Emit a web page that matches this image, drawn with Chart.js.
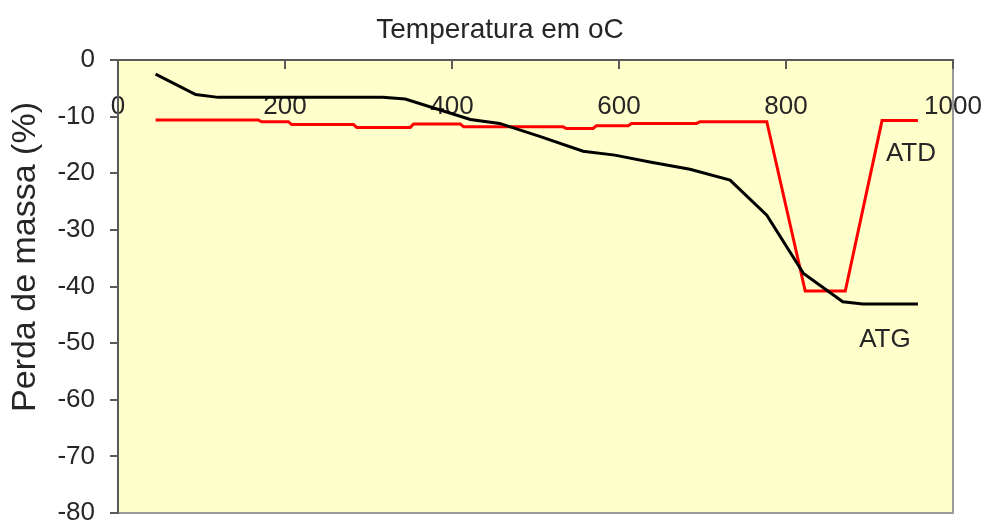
<!DOCTYPE html>
<html>
<head>
<meta charset="utf-8">
<script src="https://cdn.jsdelivr.net/npm/chart.js@4.4.1/dist/chart.umd.min.js"></script>
<style>
  html, body { margin: 0; padding: 0; background: #ffffff; }
  #wrap { width: 984px; height: 520px; position: relative; }
</style>
</head>
<body>
<div id="wrap"><canvas id="chart" width="984" height="520"></canvas></div>
<script>
// Thermogravimetric curve (ATG): temperature (°C) vs mass loss (%)
const atgTemp = [45, 93, 120, 317, 344, 422, 457, 505, 557, 595, 637, 685, 733, 777, 821, 868, 892, 958];
const atgMass = [-2.5, -6.1, -6.6, -6.6, -6.9, -10.5, -11.2, -13.5, -16.1, -16.8, -18.0, -19.3, -21.2, -27.4, -37.7, -42.7, -43.1, -43.1];

// Differential thermal curve (ATD), plotted on the same vertical scale
const atdTemp = [45, 168, 172, 204, 208, 282, 286, 350, 354, 410, 414, 533, 537, 569, 573, 611, 615, 693, 697, 777, 823, 871, 915, 958];
const atdSignal = [-10.6, -10.6, -10.9, -10.9, -11.4, -11.4, -11.9, -11.9, -11.3, -11.3, -11.8, -11.8, -12.1, -12.1, -11.6, -11.6, -11.2, -11.2, -10.9, -10.9, -40.8, -40.8, -10.7, -10.7];

const seriesNames = ['ATG', 'ATD'];
const xTitle = 'Temperatura em oC';
const yTitle = 'Perda de massa (%)';
const xMin = 0, xMax = 1000, xStep = 200;
const yMin = -80, yMax = 0, yStep = 10;

const FONT = '"Liberation Sans", Arial, Helvetica, sans-serif';
const TEXT = '#262626';
const AXIS = '#5a5a5a';

const toPoints = (xs, ys) => xs.map((x, i) => ({ x, y: ys[i] }));
const plainNumber = (v) => String(v);

// Yellow plot area with a light frame on the right and bottom, painted before the axes
const plotFrame = {
  id: 'plotFrame',
  beforeDraw(chart) {
    const { ctx, chartArea: a } = chart;
    ctx.save();
    ctx.fillStyle = '#FFFFCC';
    ctx.fillRect(a.left, a.top, a.width, a.height);
    ctx.strokeStyle = '#9a9a9a';
    ctx.lineWidth = 2;
    ctx.beginPath();
    ctx.moveTo(a.right, a.top);
    ctx.lineTo(a.right, a.bottom);
    ctx.lineTo(a.left, a.bottom);
    ctx.stroke();
    ctx.restore();
  }
};

// Rotated vertical title and the curve names next to each curve's end
const annotations = {
  id: 'annotations',
  afterDraw(chart) {
    const { ctx } = chart;
    ctx.save();
    ctx.fillStyle = TEXT;
    ctx.textBaseline = 'middle';
    ctx.textAlign = 'center';

    ctx.save();
    ctx.font = '34px ' + FONT;
    ctx.translate(26, 257);
    ctx.rotate(-Math.PI / 2);
    ctx.fillText(yTitle, 0, 0);
    ctx.restore();

    ctx.font = '26px ' + FONT;
    const offsets = { ATG: [-33, 36], ATD: [-7, 33] };
    chart.data.datasets.forEach((ds, i) => {
      const meta = chart.getDatasetMeta(i);
      const last = meta.data[meta.data.length - 1];
      const [dx, dy] = offsets[ds.label];
      ctx.fillText(ds.label, last.x + dx, last.y + dy);
    });
    ctx.restore();
  }
};

new Chart(document.getElementById('chart'), {
  type: 'line',
  data: {
    datasets: [
      {
        label: seriesNames[0],
        data: toPoints(atgTemp, atgMass),
        borderColor: '#000000',
        borderWidth: 3,
        pointRadius: 0,
        tension: 0,
        fill: false
      },
      {
        label: seriesNames[1],
        data: toPoints(atdTemp, atdSignal),
        borderColor: '#ff0000',
        borderWidth: 3,
        pointRadius: 0,
        tension: 0,
        fill: false
      }
    ]
  },
  options: {
    responsive: false,
    animation: false,
    events: [],
    layout: { padding: { left: 47, right: 31, top: 0, bottom: 7 } },
    plugins: {
      legend: { display: false },
      tooltip: { enabled: false },
      title: {
        display: true,
        text: xTitle,
        color: TEXT,
        font: { family: FONT, size: 28, weight: 'normal' },
        padding: { top: 13, bottom: 0 }
      }
    },
    scales: {
      x: {
        type: 'linear',
        position: 'top',
        min: xMin,
        max: xMax,
        ticks: {
          stepSize: xStep,
          autoSkip: false,
          maxRotation: 0,
          mirror: true,
          padding: 31,
          callback: plainNumber,
          color: TEXT,
          font: { family: FONT, size: 26 }
        },
        grid: { drawOnChartArea: false, drawTicks: true, tickLength: -9, color: AXIS, lineWidth: 2 },
        border: { display: true, color: AXIS, width: 2 },
        afterFit(s) { s.height = 13.4; s.paddingLeft = 0; s.paddingRight = 0; }
      },
      y: {
        type: 'linear',
        position: 'left',
        min: yMin,
        max: yMax,
        ticks: {
          stepSize: yStep,
          padding: 15,
          callback: plainNumber,
          color: TEXT,
          font: { family: FONT, size: 26 }
        },
        grid: { drawOnChartArea: false, drawTicks: true, tickLength: 8, color: AXIS, lineWidth: 2 },
        border: { display: true, color: AXIS, width: 2 },
        afterFit(s) { s.width = 71; s.paddingTop = 0; s.paddingBottom = 0; }
      }
    }
  },
  plugins: [plotFrame, annotations]
});
</script>
</body>
</html>
